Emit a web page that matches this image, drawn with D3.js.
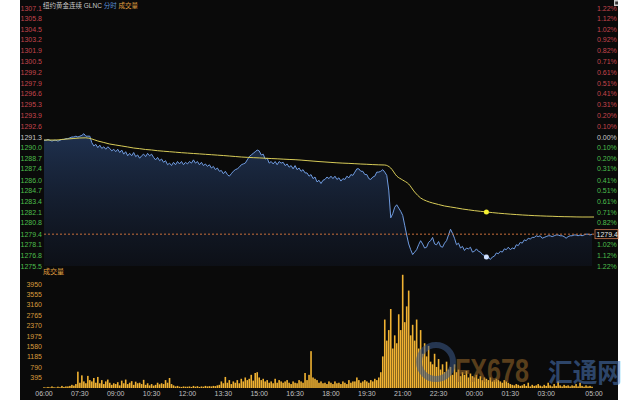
<!DOCTYPE html>
<html>
<head>
<meta charset="utf-8">
<script src="https://d3js.org/d3.v7.min.js"></script>
<style>
  body { margin: 0; background: #fff; }
  text { font-family: "Liberation Sans", Arial, "Noto Sans CJK SC", sans-serif; }
</style>
</head>
<body>
<script>
// price every 5 minutes from 06:00
var prices = [
  1290.9,1290.9,1291.0,1290.9,1290.8,1290.9,1290.9,1290.8,1290.9,1291.0,1291.0,1291.1,
  1291.1,1291.2,1291.3,1291.3,1291.4,1291.3,1291.4,1291.5,1291.7,1291.4,1291.4,1291.4,
  1290.6,1290.2,1290.4,1290.0,1290.3,1289.9,1290.1,1289.8,1290.1,1289.9,1289.6,1289.8,
  1289.5,1289.8,1289.4,1289.7,1289.2,1289.5,1289.0,1289.3,1289.0,1289.4,1288.9,1289.1,
  1288.7,1289.0,1289.2,1288.9,1289.3,1289.0,1289.2,1288.8,1288.5,1288.8,1288.4,1288.6,
  1288.2,1288.4,1287.9,1288.1,1287.8,1288.2,1287.9,1288.3,1288.0,1288.3,1287.9,1288.2,
  1288.0,1288.3,1288.1,1288.5,1288.1,1288.3,1287.9,1288.2,1287.8,1288.0,1287.7,1287.9,
  1287.5,1287.7,1287.3,1287.5,1287.1,1287.2,1286.8,1287.1,1286.7,1286.5,1286.8,1287.1,
  1287.3,1287.4,1287.6,1287.9,1288.0,1288.1,1288.5,1288.9,1289.1,1289.3,1289.5,1289.7,
  1289.6,1289.1,1289.2,1288.6,1288.7,1288.1,1288.3,1288.0,1288.3,1287.9,1288.3,1288.1,
  1288.2,1287.8,1288.0,1287.6,1287.8,1287.4,1287.8,1287.3,1287.5,1287.1,1287.3,1286.9,
  1286.9,1286.5,1286.7,1286.2,1286.4,1285.8,1286.0,1285.6,1286.0,1286.1,1286.4,1286.2,
  1286.5,1286.2,1286.5,1286.1,1286.3,1285.9,1286.2,1286.1,1286.5,1286.3,1286.7,1286.6,
  1287.0,1287.4,1287.4,1287.1,1287.1,1286.7,1286.7,1286.2,1286.1,1286.4,1286.5,1287.0,
  1287.0,1287.1,1287.3,1287.0,1286.6,1284.8,1281.4,1281.9,1282.7,1283.0,1282.6,1282.2,
  1281.7,1280.5,1279.3,1278.2,1277.5,1276.9,1277.2,1277.5,1278.1,1278.6,1278.2,1277.7,
  1277.8,1278.4,1278.6,1279.0,1278.2,1278.1,1278.5,1277.9,1277.8,1278.3,1278.6,1279.3,
  1280.0,1279.5,1278.9,1278.1,1278.3,1277.7,1277.9,1277.4,1277.7,1277.6,1277.8,1277.2,
  1277.3,1277.6,1277.3,1277.2,1276.9,1276.8,1276.6,1276.6,1276.3,1276.6,1276.7,1277.1,
  1277.0,1277.3,1277.2,1277.6,1277.5,1277.8,1277.5,1277.7,1277.6,1278.1,1278.0,1278.4,
  1278.3,1278.7,1278.6,1278.9,1278.8,1279.0,1279.0,1279.2,1279.1,1279.2,1278.9,1279.0,
  1279.1,1279.2,1279.2,1279.1,1279.2,1279.3,1279.3,1279.2,1279.2,1279.1,1278.9,1279.1,
  1279.2,1279.2,1279.3,1279.3,1279.2,1279.3,1279.2,1279.3,1279.4,1279.4,1279.3,1279.4
];

// average price every 15 minutes from 06:00
var avgPrices = [
  1290.93,1290.93,1290.93,1291.0,1291.06,1291.12,1291.18,1291.2,1291.06,1290.81,
  1290.63,1290.44,1290.32,1290.20,1290.08,1289.95,1289.87,1289.77,1289.71,1289.62,
  1289.56,1289.50,1289.44,1289.38,1289.33,1289.28,1289.23,1289.18,1289.13,1289.08,
  1289.03,1288.97,1288.91,1288.85,1288.81,1288.77,1288.74,1288.70,1288.66,1288.63,
  1288.59,1288.55,1288.52,1288.47,1288.41,1288.35,1288.29,1288.24,1288.19,1288.14,
  1288.10,1288.07,1288.03,1287.99,1287.96,1287.92,1287.89,1287.87,1287.50,1286.52,
  1286.03,1285.54,1284.56,1283.83,1283.46,1283.22,1283.03,1282.85,1282.73,1282.61,
  1282.48,1282.38,1282.28,1282.20,1282.12,1282.04,1281.97,1281.91,1281.85,1281.80,
  1281.75,1281.71,1281.67,1281.64,1281.61,1281.59,1281.56,1281.54,1281.53,1281.51,
  1281.50,1281.50,1281.50
];

// volume every 5 minutes from 06:00
var volumes = [
  30,20,40,25,60,30,20,50,30,80,40,60,
  60,80,120,90,150,620,200,480,250,180,460,300,
  250,380,200,420,180,300,150,250,320,200,120,180,
  150,220,100,280,180,320,150,200,260,120,240,180,
  200,150,310,120,180,100,150,90,120,200,140,180,
  150,300,200,380,150,100,60,80,50,40,60,50,
  50,60,40,80,50,70,40,60,50,80,60,70,
  60,80,70,100,120,250,180,420,200,300,150,250,
  200,300,180,350,250,400,300,350,500,280,570,600,
  400,300,350,250,300,200,250,180,350,200,300,250,
  200,250,300,200,150,250,200,180,300,250,200,570,
  300,500,1400,400,350,300,200,250,180,200,150,250,
  200,150,250,180,200,150,250,200,150,300,200,250,
  250,400,300,200,250,300,250,200,300,250,350,300,
  400,600,1200,2600,1800,2200,3000,1500,2000,1700,2800,2200,
  4300,2500,3100,3700,2000,2400,1800,2600,1500,2200,1300,1700,
  1200,1600,1000,900,1300,800,1100,700,900,600,1000,700,
  800,500,900,600,700,450,600,500,650,400,550,450,
  400,500,350,450,300,400,350,300,400,250,300,350,
  300,250,200,300,250,200,150,120,100,150,120,80,
  100,150,80,200,60,120,80,100,150,90,60,120,
  80,200,100,60,150,80,250,100,60,120,80,100,
  60,100,80,150,60,200,80,50,100,60,80,50
];

var priceTicks = ["1307.1","1305.8","1304.5","1303.2","1301.9","1300.5","1299.2","1297.9",
  "1296.6","1295.3","1293.9","1292.6","1291.3","1290.0","1288.7","1287.4","1286.0",
  "1284.7","1283.4","1282.1","1280.8","1279.4","1278.1","1276.8","1275.5"];
var pctTicks = ["1.22%","1.12%","1.02%","0.92%","0.82%","0.71%","0.61%","0.51%","0.41%",
  "0.31%","0.20%","0.10%","0.00%","0.10%","0.20%","0.31%","0.41%","0.51%","0.61%",
  "0.71%","0.82%","0.92%","1.02%","1.12%","1.22%"];
var volTicks = [3950,3555,3160,2765,2370,1975,1580,1185,790,395];
var timeLabels = ["06:00","07:30","09:00","10:30","12:00","13:30","15:00","16:30",
  "18:00","19:30","21:00","22:30","00:00","01:30","03:00","05:00"];
var timeMinutes = [0,90,180,270,360,450,540,630,720,810,900,990,1080,1170,1260,1380];

var prevClose = 1291.3;
var lastPrice = 1279.4;
var hoverMin = 1110;

var width = 640, height = 400;
var svg = d3.select("body").append("svg")
    .attr("width", width)
    .attr("height", height);

svg.append("rect").attr("x", 20).attr("y", 0).attr("width", 598).attr("height", 400)
    .attr("fill", "#0a0a0a");

var x = d3.scaleLinear().domain([0, 1380]).range([44, 594]);
var yP = d3.scaleLinear().domain([1275.5, 1307.1]).range([266, 8]);
var yV = d3.scaleLinear().domain([0, 3950]).range([388, 284]);

var defs = svg.append("defs");
var grad = defs.append("linearGradient").attr("id", "fillGrad")
    .attr("x1", 0).attr("y1", 0).attr("x2", 0).attr("y2", 1);
grad.append("stop").attr("offset", "0%").attr("stop-color", "#22375a").attr("stop-opacity", 0.85);
grad.append("stop").attr("offset", "100%").attr("stop-color", "#0f1420").attr("stop-opacity", 0.6);

// title
var title = svg.append("text").attr("x", 43).attr("y", 8).attr("font-size", 6.5);
title.append("tspan").attr("fill", "#c8c8c8").text("纽约黄金连续 GLNC ");
title.append("tspan").attr("fill", "#5b8fd8").text("分时 ");
title.append("tspan").attr("fill", "#e0a040").text("成交量");

// left price labels
svg.append("g").selectAll("text").data(priceTicks).enter().append("text")
    .attr("x", 42)
    .attr("y", function (d) { return yP(+d) + 2.5; })
    .attr("text-anchor", "end")
    .attr("font-size", 7)
    .attr("fill", function (d) {
        if (+d > prevClose) return "#c4444c";
        if (+d < prevClose) return "#4cbf4c";
        return "#c8c8c8";
    })
    .text(function (d) { return d; });

// right percent labels
svg.append("g").selectAll("text").data(pctTicks).enter().append("text")
    .attr("x", 597)
    .attr("y", function (d, i) { return yP(+priceTicks[i]) + 2.5; })
    .attr("font-size", 7)
    .attr("fill", function (d, i) {
        if (i < 12) return "#c4444c";
        if (i > 12) return "#4cbf4c";
        return "#c8c8c8";
    })
    .text(function (d) { return d; });

// area + price line
var pts = prices.map(function (p, i) { return { m: i * 5, p: p }; });
var area = d3.area()
    .x(function (d) { return x(d.m); })
    .y0(266)
    .y1(function (d) { return yP(d.p); });
svg.append("path").datum(pts).attr("d", area).attr("fill", "url(#fillGrad)");

var line = d3.line()
    .x(function (d) { return x(d.m); })
    .y(function (d) { return yP(d.p); });
svg.append("path").datum(pts).attr("d", line)
    .attr("fill", "none").attr("stroke", "#6f9be0").attr("stroke-width", 1);

// average line
var avgPts = avgPrices.map(function (p, i) { return { m: i * 15, p: p }; });
svg.append("path").datum(avgPts)
    .attr("d", line.curve(d3.curveMonotoneX))
    .attr("fill", "none").attr("stroke", "#d8cc58").attr("stroke-width", 1);

// last price dashed line
svg.append("line")
    .attr("x1", 44).attr("x2", 594)
    .attr("y1", yP(lastPrice)).attr("y2", yP(lastPrice))
    .attr("stroke", "#c8703c").attr("stroke-width", 1)
    .attr("stroke-dasharray", "2,2");

svg.append("rect").attr("x", 595).attr("y", yP(lastPrice) - 4.5)
    .attr("width", 23).attr("height", 9)
    .attr("fill", "#0a0a0a").attr("stroke", "#d07a50").attr("stroke-width", 0.8);
svg.append("text").attr("x", 596.5).attr("y", yP(lastPrice) + 2.5)
    .attr("font-size", 7).attr("fill", "#e6e6e6").text(lastPrice.toFixed(1));

// hover markers
svg.append("circle").attr("cx", x(hoverMin)).attr("cy", yP(prices[hoverMin / 5]))
    .attr("r", 2.5).attr("fill", "#cfe0ff");
svg.append("circle").attr("cx", x(hoverMin)).attr("cy", yP(avgPrices[hoverMin / 15]))
    .attr("r", 2.5).attr("fill", "#f4f030");

// volume panel
svg.append("text").attr("x", 43).attr("y", 274).attr("font-size", 7)
    .attr("fill", "#e0a040").text("成交量");

svg.append("g").selectAll("text").data(volTicks).enter().append("text")
    .attr("x", 42)
    .attr("y", function (d) { return yV(d) + 2.5; })
    .attr("text-anchor", "end")
    .attr("font-size", 7)
    .attr("fill", "#d89a3c")
    .text(function (d) { return d; });

svg.append("g").selectAll("rect").data(volumes).enter().append("rect")
    .attr("x", function (d, i) { return x(i * 5) - 0.8; })
    .attr("y", function (d) { return yV(d); })
    .attr("width", 1.6)
    .attr("height", function (d) { return yV(0) - yV(d); })
    .attr("fill", "#f0b232");

// watermark
var wm = svg.append("g").attr("opacity", 0.55);
wm.append("circle").attr("cx", 436).attr("cy", 362).attr("r", 17)
    .attr("fill", "none").attr("stroke", "#3c5a8c").attr("stroke-width", 6);
wm.append("text").attr("x", 455).attr("y", 382).attr("font-size", 34)
    .attr("font-weight", "bold").attr("textLength", 74).attr("lengthAdjust", "spacingAndGlyphs")
    .attr("fill", "#9a6a2a").text("FX678");
wm.append("text").attr("x", 548).attr("y", 382).attr("font-size", 26)
    .attr("font-weight", "bold").attr("textLength", 74).attr("lengthAdjust", "spacingAndGlyphs")
    .attr("fill", "#4a76b8").text("汇通网");

// time labels
svg.append("g").selectAll("text").data(timeLabels).enter().append("text")
    .attr("x", function (d, i) { return x(timeMinutes[i]); })
    .attr("y", 396)
    .attr("text-anchor", "middle")
    .attr("font-size", 7)
    .attr("fill", "#c0c0c0")
    .text(function (d) { return d; });

// small corner icon
svg.append("rect").attr("x", 614).attr("y", 0).attr("width", 4).attr("height", 6).attr("fill", "#cccccc");
svg.append("rect").attr("x", 615.2).attr("y", 1.5).attr("width", 2.8).attr("height", 3).attr("fill", "#333");
</script>
</body>
</html>
